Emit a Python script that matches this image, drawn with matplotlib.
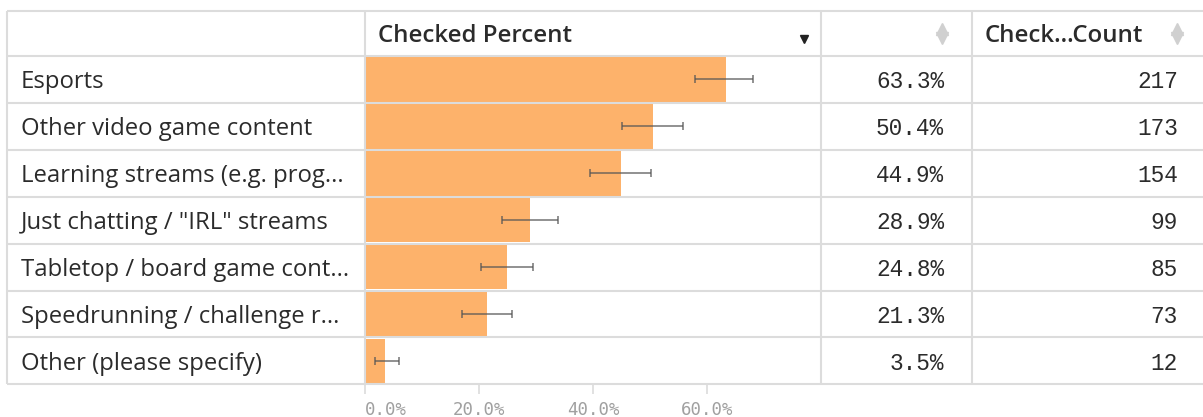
import matplotlib
matplotlib.use("Agg")
import matplotlib.pyplot as plt
import numpy as np

# Data
categories = ["Esports", "Other video game content", "Learning streams (e.g. prog...",
              "Just chatting / \"IRL\" streams", "Tabletop / board game cont...",
              "Speedrunning / challenge r...", "Other (please specify)"]
percent = [63.3, 50.4, 44.9, 28.9, 24.8, 21.3, 3.5]
ci_low = [57.8, 45.0, 39.5, 24.0, 20.3, 17.0, 1.8]
ci_high = [68.0, 55.7, 50.2, 33.8, 29.5, 25.8, 6.0]
counts = [217, 173, 154, 99, 85, 73, 12]
tick_vals = [0, 20, 40, 60]
tick_labels = ["0.0%", "20.0%", "40.0%", "60.0%"]

W, H = 1203, 417
fig = plt.figure(figsize=(W / 100, H / 100), dpi=100)

# Table geometry (pixels)
top = 11
head_bot = 56
row_h = 46.9
n = len(categories)
bottom = head_bot + n * row_h
col_x = [7, 365, 821, 972, 1203]
grid_c = "#dcdcdc"
text_c = "#2b2b2b"
mono = "Liberation Mono"

# Bar chart axes inside the table column
ax = fig.add_axes([col_x[1] / W, (H - bottom) / H, (col_x[2] - col_x[1]) / W, (bottom - head_bot) / H])
y = np.arange(n)
ax.barh(y, percent, height=0.95, color="#fdb26b", zorder=2)
xerr = [np.array(percent) - np.array(ci_low), np.array(ci_high) - np.array(percent)]
ax.errorbar(percent, y, xerr=xerr, fmt="none", ecolor="#555555", alpha=0.7,
            elinewidth=1.3, capsize=3, capthick=1.3, zorder=3)
ax.set_xlim(0, 79.9)
ax.set_ylim(n - 0.5, -0.5)
ax.set_yticks([])
ax.set_xticks(tick_vals)
ax.set_xticklabels(tick_labels, family="DejaVu Sans Mono", fontsize=12.5, color="#a0a0a0")
ax.tick_params(axis="x", length=7, width=1.2, color=grid_c, pad=5)
ax.get_xticklabels()[0].set_horizontalalignment("left")
for s in ax.spines.values():
    s.set_visible(False)
ax.patch.set_alpha(0)

# Overlay axes for table lines and text, pixel coordinates
ov = fig.add_axes([0, 0, 1, 1], zorder=5)
ov.set_xlim(0, W)
ov.set_ylim(H, 0)
ov.axis("off")

rows_y = [top, head_bot] + [head_bot + (i + 1) * row_h for i in range(n)]
for yy in rows_y:
    ov.plot([col_x[0], W], [yy, yy], color=grid_c, lw=1.5, solid_capstyle="butt")
for xx in col_x[:4]:
    ov.plot([xx, xx], [top, bottom], color=grid_c, lw=1.5, solid_capstyle="butt")

# Header
head_base = 41.7
ov.text(378, head_base, "Checked Percent", fontsize=17.3, fontweight="semibold",
        family="Open Sans", color=text_c, va="baseline", ha="left")
ov.text(985, head_base, "Check...Count", fontsize=17.3, fontweight="semibold",
        family="Open Sans", color=text_c, va="baseline", ha="left")
ov.plot(804, 39, marker="v", markersize=6, color="#222222")
for ix in [942, 1177]:
    ov.plot(ix, 29, marker="^", markersize=8, color="#d0d0d0")
    ov.plot(ix, 38, marker="v", markersize=8, color="#d0d0d0")

# Rows
for i in range(n):
    base = head_bot + (i + 0.5) * row_h + 8.8
    ov.text(21, base, categories[i], fontsize=17.2, family="Open Sans",
            color=text_c, va="baseline", ha="left")
    ov.text(944, base, f"{percent[i]:.1f}%", fontsize=16.4, family=mono,
            color=text_c, va="baseline", ha="right")
    ov.text(1178, base, f"{counts[i]}", fontsize=16.4, family=mono,
            color=text_c, va="baseline", ha="right")

fig.savefig("out.png", dpi=100)
